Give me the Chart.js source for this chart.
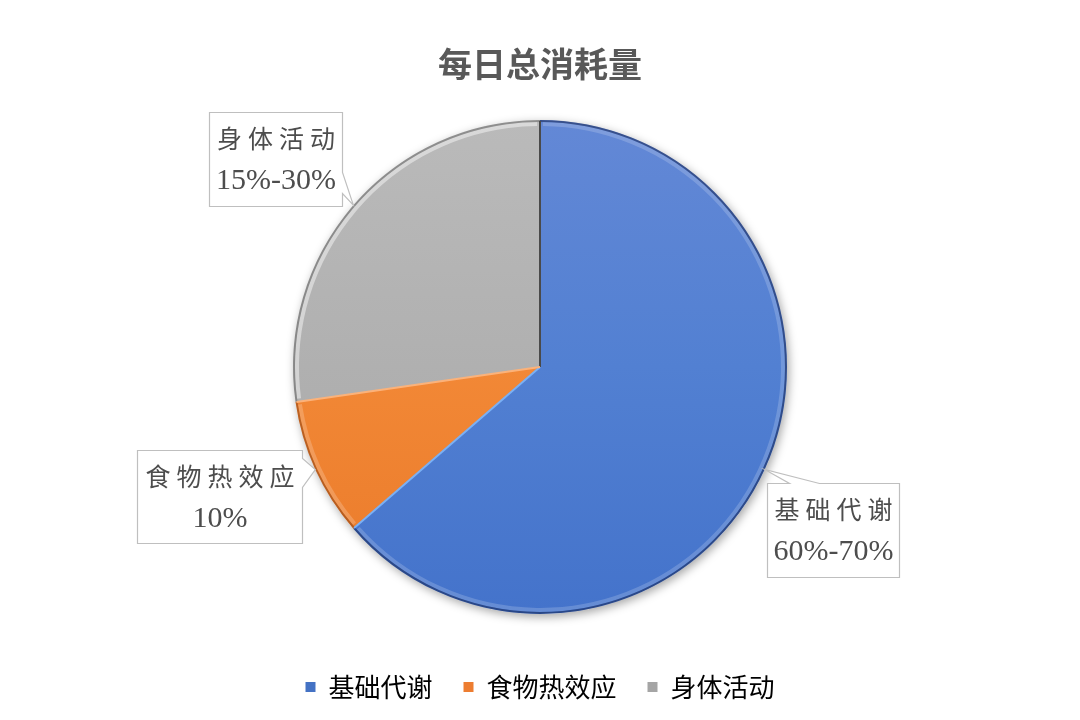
<!DOCTYPE html>
<html><head><meta charset="utf-8">
<script src="https://cdn.jsdelivr.net/npm/chart.js@4.4.0/dist/chart.umd.min.js"></script>
<style>html,body{margin:0;padding:0;background:#fff}#wrap{width:1080px;height:720px}</style>
</head><body><div id="wrap"><canvas id="c" width="1080" height="720"></canvas></div>
<script>
const chartTitle = '每日总消耗量';
const categories = ['基础代谢', '食物热效应', '身体活动'];
const values = [70, 10, 30];
const rangeLabels = ['60%-70%', '10%', '15%-30%'];

const baseColors = ['#4472C4', '#ED7D31', '#A5A5A5'];
const gradStops = [
  ['#6388d6', '#5280d2', '#4473cb'],
  ['#f89a52', '#f28836', '#ea7a2a'],
  ['#bababa', '#b0b0b0', '#a6a6a6']
];
// colour of the radial edge at the start of each slice, and of the outer rim
const startEdgeColors = ['#4a4a4a', '#7ab0f5', '#fbb27a'];
const rimColors = ['rgba(20,35,80,0.55)', 'rgba(120,50,10,0.45)', 'rgba(60,60,60,0.35)'];
const rimLights = ['rgba(255,255,255,0.18)', 'rgba(255,255,255,0.2)', 'rgba(255,255,255,0.45)'];

function sliceFill(ctx) {
  const chart = ctx.chart;
  const area = chart.chartArea;
  const i = ctx.dataIndex;
  if (!area) return baseColors[i];
  const g = chart.ctx.createLinearGradient(0, area.top + 30, 0, area.bottom - 30);
  const s = gradStops[i];
  g.addColorStop(0, s[0]);
  g.addColorStop(0.5, s[1]);
  g.addColorStop(1, s[2]);
  return g;
}

const shadowPlugin = {
  id: 'pieShadow',
  beforeDatasetsDraw(chart) {
    const arc = chart.getDatasetMeta(0).data[0];
    if (!arc) return;
    const {x, y, outerRadius} = arc.getProps(['x', 'y', 'outerRadius'], true);
    const c = chart.ctx;
    c.save();
    c.shadowColor = 'rgba(0,0,0,0.35)';
    c.shadowBlur = 10;
    c.shadowOffsetX = 2;
    c.shadowOffsetY = 3;
    c.beginPath();
    c.arc(x, y, outerRadius, 0, Math.PI * 2);
    c.fillStyle = '#ffffff';
    c.fill();
    c.restore();
  },
  afterDatasetsDraw(chart) {
    const meta = chart.getDatasetMeta(0);
    const c = chart.ctx;
    meta.data.forEach((arc, i) => {
      const {x, y, startAngle, endAngle, outerRadius} = arc.getProps(['x', 'y', 'startAngle', 'endAngle', 'outerRadius'], true);
      c.save();
      c.beginPath();
      c.arc(x, y, outerRadius - 4, startAngle + 0.012, endAngle - 0.012);
      c.strokeStyle = rimLights[i];
      c.lineWidth = 4;
      c.stroke();
      c.beginPath();
      c.arc(x, y, outerRadius - 1, startAngle, endAngle);
      c.strokeStyle = rimColors[i];
      c.lineWidth = 2;
      c.stroke();
      c.restore();
    });
    meta.data.forEach((arc, i) => {
      const {x, y, startAngle, outerRadius} = arc.getProps(['x', 'y', 'startAngle', 'outerRadius'], true);
      c.save();
      c.beginPath();
      c.moveTo(x, y);
      c.lineTo(x + Math.cos(startAngle) * (outerRadius - 1), y + Math.sin(startAngle) * (outerRadius - 1));
      c.strokeStyle = startEdgeColors[i];
      c.lineWidth = 2;
      c.stroke();
      c.restore();
    });
  }
};

const calloutPlugin = {
  id: 'callouts',
  afterDraw(chart) {
    const place = [
      {dx: 2, dy: 13, w: 132, h: 94, tail: 'top', t1: 22, t2: 52},
      {dx: -178, dy: -20, w: 165, h: 93, tail: 'right', t1: 8, t2: 37},
      {dx: -144, dy: -93, w: 133, h: 94, tail: 'right', t1: 60, t2: 81}
    ];
    const meta = chart.getDatasetMeta(0);
    const c = chart.ctx;
    meta.data.forEach((arc, i) => {
      const {x, y, startAngle, endAngle, outerRadius} = arc.getProps(['x', 'y', 'startAngle', 'endAngle', 'outerRadius'], true);
      const mid = (startAngle + endAngle) / 2;
      const tx = x + Math.cos(mid) * outerRadius;
      const ty = y + Math.sin(mid) * outerRadius;
      const p = place[i];
      const L = Math.round(tx + p.dx) + 0.5, T = Math.round(ty + p.dy) + 0.5;
      const R = L + p.w, B = T + p.h;
      c.save();
      c.beginPath();
      if (p.tail === 'top') {
        c.moveTo(L, T); c.lineTo(L + p.t1, T); c.lineTo(tx, ty); c.lineTo(L + p.t2, T);
        c.lineTo(R, T); c.lineTo(R, B); c.lineTo(L, B); c.closePath();
      } else {
        c.moveTo(L, T); c.lineTo(R, T); c.lineTo(R, T + p.t1); c.lineTo(tx, ty);
        c.lineTo(R, T + p.t2); c.lineTo(R, B); c.lineTo(L, B); c.closePath();
      }
      c.fillStyle = '#ffffff';
      c.fill();
      c.strokeStyle = '#bfbfbf';
      c.lineWidth = 1.2;
      c.stroke();
      c.fillStyle = '#4d4d4d';
      c.textAlign = 'center';
      c.textBaseline = 'middle';
      c.font = '25px "Noto Sans CJK SC"';
      c.letterSpacing = '6px';
      c.fillText(categories[i], L + p.w / 2 + 3, T + 26);
      c.letterSpacing = '0px';
      c.font = '30px "Liberation Serif"';
      c.fillText(rangeLabels[i], L + p.w / 2, T + 69);
      c.restore();
    });
  }
};

new Chart(document.getElementById('c'), {
  type: 'pie',
  data: {
    labels: categories,
    datasets: [{
      data: values,
      backgroundColor: sliceFill,
      borderWidth: 0,
      radius: 247
    }]
  },
  options: {
    responsive: false,
    devicePixelRatio: 1,
    animation: false,
    layout: {padding: {top: 0, bottom: 10, left: 0, right: 0}},
    plugins: {
      tooltip: {enabled: false},
      title: {
        display: true,
        text: chartTitle,
        color: '#595959',
        font: {family: '"Noto Sans CJK SC"', size: 34, weight: 'bold'},
        padding: {top: 44, bottom: 6}
      },
      legend: {
        display: true,
        position: 'bottom',
        labels: {
          color: '#595959',
          font: {family: '"Noto Sans CJK SC"', size: 26},
          boxWidth: 10,
          boxHeight: 10,
          padding: 31,
          generateLabels(chart) {
            return categories.map((t, i) => ({
              text: t,
              fillStyle: baseColors[i],
              strokeStyle: baseColors[i],
              lineWidth: 0,
              hidden: false,
              index: i
            }));
          }
        }
      }
    }
  },
  plugins: [shadowPlugin, calloutPlugin]
});
</script>
</body></html>
